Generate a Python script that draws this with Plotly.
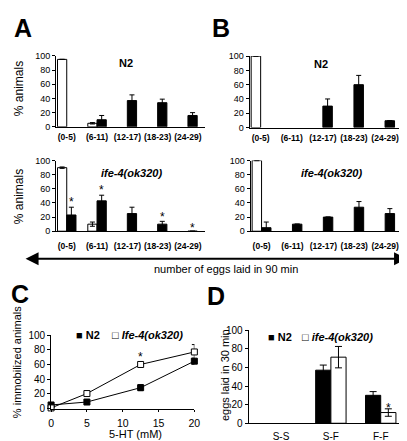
import plotly.graph_objects as go

W, H = 407, 441

# ---------------- data ----------------
cats = ["(0-5)", "(6-11)", "(12-17)", "(18-23)", "(24-29)"]

a_n2_open = [95, 5, None, None, None]
a_n2_open_err = [0, 1, 0, 0, 0]
a_n2_fill = [None, 10, 37, 34, 16]
a_n2_fill_err = [0, 6, 8, 5, 4]

a_ife_open = [90, 10, None, None, None]
a_ife_open_err = [1, 3, 0, 0, 0]
a_ife_fill = [23, 43, 25, 10, 0]
a_ife_fill_err = [11, 8, 9, 4, 0]
a_ife_sig = [45.8, 63, None, 23.8, 9]

b_n2_open = [100, None, None, None, None]
b_n2_open_err = [0, 0, 0, 0, 0]
b_n2_fill = [None, None, 30, 60, 9.5]
b_n2_fill_err = [0, 0, 10, 13, 0]

b_ife_open = [100, None, None, None, None]
b_ife_open_err = [0, 0, 0, 0, 0]
b_ife_fill = [5, 10, 20, 34, 25]
b_ife_fill_err = [8, 0, 0, 8, 7]

conc = [0, 5, 12.5, 20]
c_n2 = [5, 9, 28.5, 64.5]
c_n2_err = [1, 3, 4, 4]
c_ife = [1, 20.5, 60, 77]
c_ife_err = [1, 3, 3, 10]
c_sig_x = [12.5]
c_sig_y = [74.5]

d_groups = ["S-S", "S-F", "F-F"]
d_n2 = [None, 57, 30]
d_n2_err = [0, 5.5, 4]
d_ife = [None, 71, 11.5]
d_ife_err = [0, 11.5, 4]
d_sig = [None, None, 19.6]

FONT = "Arial, Liberation Sans, sans-serif"


def X(p):
    return p / W


def Y(p):
    return 1 - p / H


def err(arr, w=2.5):
    return dict(type="data", array=arr, visible=True, color="black", thickness=1, width=w)


fig = go.Figure()


def add_bar_pair(xa, ya, xs, open_v, open_e, fill_v, fill_e, open_first=True, w=2.5):
    t_open = go.Bar(x=xs, y=open_v, error_y=err(open_e, w), xaxis=xa, yaxis=ya,
                    marker=dict(color="white", line=dict(color="black", width=1)),
                    showlegend=False)
    t_fill = go.Bar(x=xs, y=fill_v, error_y=err(fill_e, w), xaxis=xa, yaxis=ya,
                    marker=dict(color="black", line=dict(color="black", width=1)),
                    showlegend=False)
    if open_first:
        fig.add_trace(t_open)
        fig.add_trace(t_fill)
    else:
        fig.add_trace(t_fill)
        fig.add_trace(t_open)


add_bar_pair("x", "y", cats, a_n2_open, a_n2_open_err, a_n2_fill, a_n2_fill_err)
add_bar_pair("x2", "y2", cats, a_ife_open, a_ife_open_err, a_ife_fill, a_ife_fill_err)
add_bar_pair("x3", "y3", cats, b_n2_open, b_n2_open_err, b_n2_fill, b_n2_fill_err)
add_bar_pair("x4", "y4", cats, b_ife_open, b_ife_open_err, b_ife_fill, b_ife_fill_err)
add_bar_pair("x6", "y6", d_groups, d_ife, d_ife_err, d_n2, d_n2_err, open_first=False, w=3.5)

# panel C lines
fig.add_trace(go.Scatter(x=conc, y=c_n2, error_y=err(c_n2_err, 2.5), xaxis="x5", yaxis="y5",
                         mode="lines+markers", line=dict(color="black", width=1),
                         marker=dict(symbol="square", size=6, color="black",
                                     line=dict(color="black", width=1)),
                         cliponaxis=False, showlegend=False))
fig.add_trace(go.Scatter(x=conc, y=c_ife, error_y=err(c_ife_err, 2.5), xaxis="x5", yaxis="y5",
                         mode="lines+markers", line=dict(color="black", width=1),
                         marker=dict(symbol="square", size=6, color="white",
                                     line=dict(color="black", width=1)),
                         cliponaxis=False, showlegend=False))

axis_line = dict(showline=True, linecolor="black", linewidth=1, showgrid=False,
                 zeroline=False, fixedrange=True)


def ybar(top, bottom, rng=(0, 100)):
    return dict(domain=[Y(bottom), Y(top)], range=list(rng), dtick=20, ticks="outside",
                ticklen=3, tickwidth=1, tickcolor="black",
                tickfont=dict(family=FONT, size=9, color="black"), **axis_line)


def xcat(left, right, anchor, rng, standoff, size=8.5, bold=True):
    return dict(domain=[X(left), X(right)], type="category", range=rng, ticks="",
                anchor=anchor, ticklabelstandoff=standoff,
                tickfont=dict(family=FONT, size=size, color="black",
                              weight="bold" if bold else "normal"), **axis_line)


cat_rng = [-0.355, 4.55]
layout = dict(
    width=W, height=H, margin=dict(l=0, r=0, t=0, b=0),
    paper_bgcolor="white", plot_bgcolor="white",
    barmode="group", bargap=0.39, bargroupgap=0,
    showlegend=False,
    xaxis=xcat(46, 198, "y", cat_rng, 2),
    yaxis=ybar(43, 116),
    xaxis2=xcat(46, 198, "y2", cat_rng, 7),
    yaxis2=ybar(150.7, 223.3),
    xaxis3=xcat(244, 400, "y3", cat_rng, 2),
    yaxis3=ybar(43.3, 116.7),
    xaxis4=xcat(245, 400, "y4", cat_rng, 7),
    yaxis4=ybar(150.7, 223.3),
    xaxis5=dict(domain=[X(41), X(187.5)], range=[0, 20], dtick=5, ticks="outside",
                ticklen=2, tickcolor="black", anchor="y5", ticklabelstandoff=3,
                tickfont=dict(family=FONT, size=10.5, color="black"), **axis_line),
    yaxis5=dict(ybar(330, 405.7), anchor="x5"),
    xaxis6=xcat(243, 400, "y6", [-0.65, 2.43], 4, size=10, bold=False),
    yaxis6=dict(ybar(325, 420.7), anchor="x6"),
)
layout["yaxis"]["anchor"] = "x"
layout["yaxis2"]["anchor"] = "x2"
layout["yaxis3"]["anchor"] = "x3"
layout["yaxis4"]["anchor"] = "x4"
layout["yaxis5"]["tickfont"]["size"] = 10
layout["yaxis6"]["tickfont"]["size"] = 10
fig.update_layout(**layout)

ann = []


def txt(x, y, text, size, bold=False, italic=False, angle=0, xanchor="center"):
    t = text
    if italic:
        t = "<i>" + t + "</i>"
    if bold:
        t = "<b>" + t + "</b>"
    ann.append(dict(x=X(x), y=Y(y), xref="paper", yref="paper", text=t, showarrow=False,
                    textangle=angle, xanchor=xanchor, yanchor="middle",
                    font=dict(family=FONT, size=size, color="black")))


# panel letters
txt(12, 14, "A", 25, bold=True)
txt(215, 14, "B", 25, bold=True)
txt(9, 288, "C", 25, bold=True)
txt(210, 290, "D", 25, bold=True)

# subplot titles
txt(117.5, 50, "N2", 11, bold=True)
txt(123.5, 163, "ife-4(ok320)", 11, bold=True, italic=True)
txt(317.5, 51.5, "N2", 11, bold=True)
txt(327.5, 163, "ife-4(ok320)", 11, bold=True, italic=True)

# axis titles
txt(8.5, 77, "% animals", 12, angle=-90)
txt(8.5, 188, "% animals", 12, angle=-90)
txt(6, 358, "% immobilized animals", 11, angle=-90)
txt(219, 371, "eggs laid in 30 min", 11, angle=-90)
txt(127, 432, "5-HT (mM)", 11)

# arrow + text
ann.append(dict(x=X(405), y=Y(251.7), ax=-(405 - 22), ay=0, xref="paper", yref="paper",
                axref="pixel", ayref="pixel", text="", showarrow=True,
                arrowside="end+start", arrowhead=2, arrowsize=1.3, arrowwidth=2,
                arrowcolor="black"))
txt(220, 262, "number of eggs laid in 90 min", 11)

# legends
txt(64, 330, "■ N2", 11, bold=True, xanchor="left")
txt(101, 330, "□ <b><i>Ife-4(ok320)</i></b>", 11, xanchor="left")
txt(261, 332, "■ N2", 11, bold=True, xanchor="left")
txt(296, 332, "□ <b><i>ife-4(ok320)</i></b>", 11, xanchor="left")

# significance stars
for c, v in zip(cats, a_ife_sig):
    if v is not None:
        ann.append(dict(x=c, y=v, xref="x2", yref="y2", text="*", showarrow=False,
                        xshift=4.75, yshift=-3, yanchor="middle",
                        font=dict(family=FONT, size=12, color="black")))
for xv, v in zip(c_sig_x, c_sig_y):
    ann.append(dict(x=xv, y=v, xref="x5", yref="y5", text="*", showarrow=False,
                    yshift=-3, yanchor="middle", font=dict(family=FONT, size=12, color="black")))
for c, v in zip(d_groups, d_sig):
    if v is not None:
        ann.append(dict(x=c, y=v, xref="x6", yref="y6", text="*", showarrow=False,
                        xshift=7.4, yshift=-3, yanchor="middle",
                        font=dict(family=FONT, size=12, color="black")))

fig.update_layout(annotations=ann)
fig.write_html("out.html")
